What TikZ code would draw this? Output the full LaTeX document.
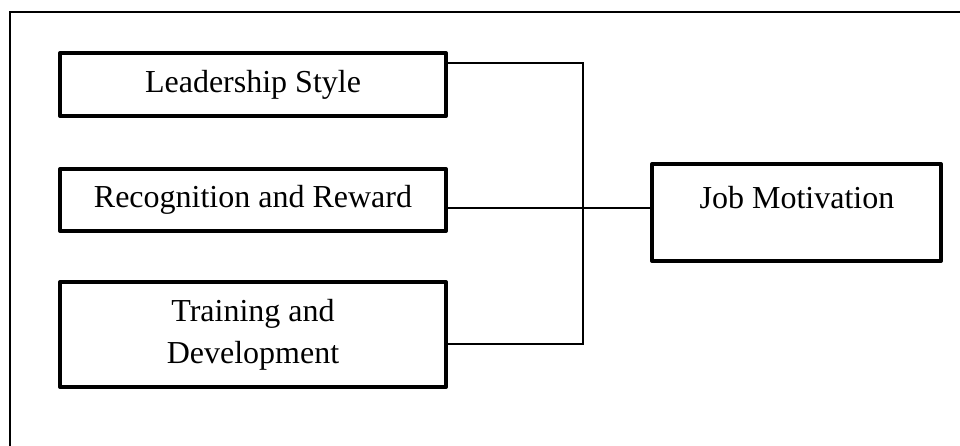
\documentclass[tikz,border=0pt]{standalone}
\usepackage{fontspec}
\setmainfont{Liberation Serif}
\begin{document}
\begin{tikzpicture}[x=0.75pt,y=-0.75pt,
  box/.style={draw=black,line width=3pt,line join=round,fill=white,inner sep=0pt,
    font=\fontsize{24}{31.5}\selectfont,align=center},
  conn/.style={draw=black,line width=0.9pt},
  frame/.style={draw=black,line width=0.9pt}]
\useasboundingbox (0,0) rectangle (960,446);
\draw[frame] (10,12) rectangle (975,460);
% boxes (stroke centre coordinates)
\node[box,minimum width=386pt*0.75,minimum height=63pt*0.75] (ls) at (253,84.5) {Leadership Style};
\node[box,minimum width=386pt*0.75,minimum height=62pt*0.75] (rr) at (253,200) {Recognition and Reward};
\node[box,minimum width=386pt*0.75,minimum height=105pt*0.75] (td) at (253,334.5) {Training and\\Development};
\node[box,minimum width=289pt*0.75,minimum height=97pt*0.75] (jm) at (796.5,212.5) {};
\node[anchor=base,inner sep=0pt,font=\fontsize{24}{31.5}\selectfont] (jmt) at (797,208) {Job Motivation};
% junction coordinates
\coordinate (j1) at (583,63);
\coordinate (j2) at (583,208);
\coordinate (j3) at (583,344);
\draw[conn] (ls.east |- j1) -- (j1) -- (j3) -- (td.east |- j3);
\draw[conn] (rr.east |- j2) -- (jm.west |- j2);
\end{tikzpicture}
\end{document}
